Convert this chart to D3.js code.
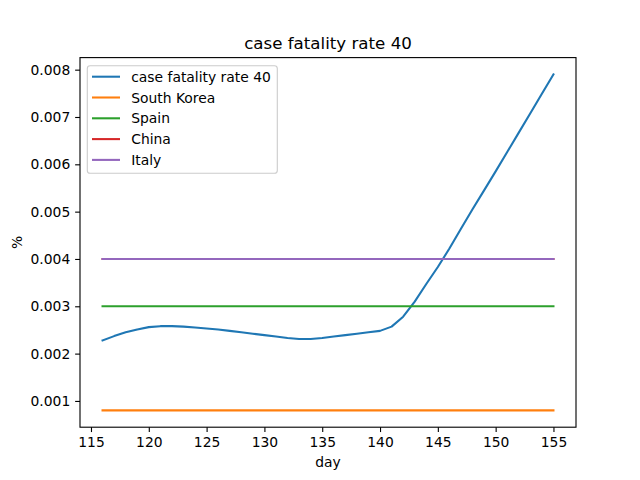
<!DOCTYPE html>
<html><head><meta charset="utf-8">
<script src="https://cdn.jsdelivr.net/npm/d3@7"></script>
<style>body{margin:0;background:#fff}svg{display:block}text{font-family:"DejaVu Sans",sans-serif}</style>
</head><body><svg id="c" width="640" height="480"></svg>
<script>
const days = d3.range(116, 156);
const cfr40 = [0.00228,0.00237,0.00245,0.00251,0.00256,0.00258,0.00258,0.00257,0.00255,0.00253,
0.00251,0.00248,0.00245,0.00242,0.00239,0.00236,0.00233,0.00231,0.00231,0.00233,
0.00236,0.00239,0.00242,0.00245,0.00248,0.00257,0.00278,0.00310,0.00347,0.00383,
0.00422,0.00464,0.00505,0.00545,0.00585,0.00626,0.00667,0.00708,0.00749,0.00790];
const southKorea = 0.0008, spain = 0.003, china = 0.004, italy = 0.004;
const seriesNames = ["case fatality rate 40","South Korea","Spain","China","Italy"];
const seriesColors = ["#1f77b4","#ff7f0e","#2ca02c","#d62728","#9467bd"];
const xTicks = [115,120,125,130,135,140,145,150,155];
const yTicks = [0.001,0.002,0.003,0.004,0.005,0.006,0.007,0.008];

const series = [
  cfr40,
  days.map(()=>southKorea),
  days.map(()=>spain),
  days.map(()=>china),
  days.map(()=>italy)
];

const svg = d3.select("#c");
const L=80, R=576, T=57.6, B=427.2;
const allV = series.flat();
const ymin=d3.min(allV), ymax=d3.max(allV), yr=ymax-ymin;
const x = d3.scaleLinear().domain([116-0.05*39, 155+0.05*39]).range([L,R]);
const y = d3.scaleLinear().domain([ymin-0.05*yr, ymax+0.05*yr]).range([B,T]);

const g = svg.append("g");
const line = d3.line().x((d,i)=>x(days[i])).y(d=>y(d));
series.forEach((s,i)=>{
  g.append("path").attr("d",line(s)).attr("fill","none").attr("stroke",seriesColors[i])
   .attr("stroke-width",2.08).attr("stroke-linecap","square").attr("stroke-linejoin","round");
});

const fs = 13.89;
const xa = svg.append("g").attr("transform",`translate(0,${B})`)
  .call(d3.axisBottom(x).tickValues(xTicks).tickFormat(d3.format("d")).tickSize(4.86).tickPadding(4.86));
const ya = svg.append("g").attr("transform",`translate(${L},0)`)
  .call(d3.axisLeft(y).tickValues(yTicks).tickFormat(d3.format(".3f")).tickSize(4.86).tickPadding(4.86));
[xa,ya].forEach(a=>{
  a.select(".domain").remove();
  a.selectAll(".tick line").attr("stroke","#000").attr("stroke-width",1.11);
  a.selectAll(".tick text").attr("font-size",fs).attr("fill","#000").attr("font-family","DejaVu Sans");
});
svg.append("rect").attr("x",L).attr("y",T).attr("width",R-L).attr("height",B-T)
  .attr("fill","none").attr("stroke","#000").attr("stroke-width",1.11);

svg.append("text").attr("x",(L+R)/2).attr("y",49.3).attr("text-anchor","middle")
  .attr("font-size",16.67).text("case fatality rate 40");
svg.append("text").attr("x",(L+R)/2).attr("y",467).attr("text-anchor","middle")
  .attr("font-size",fs).text("day");
svg.append("text").attr("transform",`translate(22,${(T+B)/2}) rotate(-90)`).attr("text-anchor","middle")
  .attr("font-size",fs).text("%");

// legend
const lg = svg.append("g");
lg.append("rect").attr("x",87.3).attr("y",65.7).attr("width",190).attr("height",107.6)
  .attr("rx",2.8).attr("fill","#fff").attr("fill-opacity",0.8).attr("stroke","#cccccc").attr("stroke-width",1.11);
seriesNames.forEach((n,i)=>{
  const cy = 76.7 + i*20.8;
  lg.append("line").attr("x1",92).attr("x2",120).attr("y1",cy).attr("y2",cy)
    .attr("stroke",seriesColors[i]).attr("stroke-width",2.08);
  lg.append("text").attr("x",131.2).attr("y",cy+5).attr("font-size",fs).text(n);
});
</script></body></html>
